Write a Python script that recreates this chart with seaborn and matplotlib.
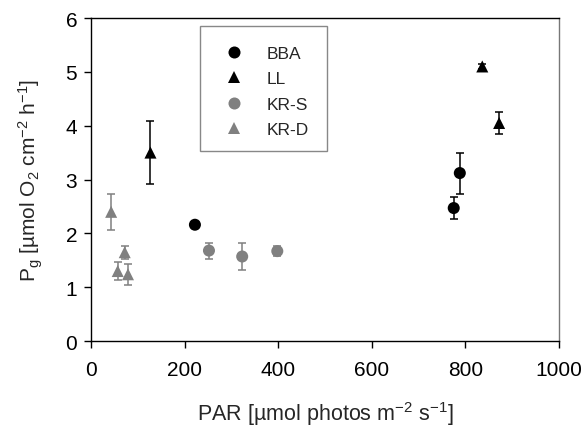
import pandas as pd
import matplotlib.pyplot as plt
import seaborn as sns
from matplotlib.patches import Rectangle

# values
bba_par = [222, 775, 788]
bba_pg = [2.16, 2.47, 3.12]
bba_err = [0.0, 0.20, 0.38]

ll_par = [127, 836, 872]
ll_pg = [3.50, 5.10, 4.05]
ll_err = [0.59, 0.04, 0.20]

krs_par = [252, 323, 398]
krs_pg = [1.68, 1.57, 1.67]
krs_err = [0.15, 0.25, 0.09]

krd_par = [43, 57, 72, 79]
krd_pg = [2.40, 1.30, 1.65, 1.24]
krd_err = [0.34, 0.17, 0.12, 0.20]

groups = ['BBA', 'LL', 'KR-S', 'KR-D']
colors = {'BBA': 'black', 'LL': 'black', 'KR-S': '#808080', 'KR-D': '#808080'}
markers = {'BBA': 'o', 'LL': '^', 'KR-S': 'o', 'KR-D': '^'}

frames = []
for g, x, y, e in [('BBA', bba_par, bba_pg, bba_err), ('LL', ll_par, ll_pg, ll_err),
                   ('KR-S', krs_par, krs_pg, krs_err), ('KR-D', krd_par, krd_pg, krd_err)]:
    frames.append(pd.DataFrame({'PAR': x, 'Pg': y, 'err': e, 'group': g}))
df = pd.concat(frames, ignore_index=True)

sns.set_style('ticks')
plt.rcParams['font.family'] = ['Liberation Sans', 'DejaVu Sans']
plt.rcParams['mathtext.fontset'] = 'custom'
plt.rcParams['mathtext.rm'] = 'Liberation Sans'
plt.rcParams['mathtext.default'] = 'regular'

fig = plt.figure(figsize=(5.85, 4.27), dpi=100)
ax = fig.add_axes([0.1556, 0.199, 0.80, 0.7565])

# error bars first, then markers on top
for g in groups:
    d = df[df['group'] == g]
    d = d[d['err'] > 0]
    ax.errorbar(d['PAR'], d['Pg'], yerr=d['err'], fmt='none', ecolor=colors[g],
                elinewidth=1.1, capsize=3, capthick=1.1, zorder=2)

sns.scatterplot(data=df, x='PAR', y='Pg', hue='group', style='group',
                hue_order=groups, style_order=groups, palette=colors, markers=markers,
                s=75, edgecolor='none', linewidth=0, ax=ax, zorder=3)

ax.set_xlim(0, 1000)
ax.set_ylim(0, 6)
ax.set_xticks([0, 200, 400, 600, 800, 1000])
ax.set_yticks([0, 1, 2, 3, 4, 5, 6])
ax.tick_params(labelsize=15, length=5, width=1, direction='out', colors='black')
ax.tick_params(axis='x', pad=9)
ax.tick_params(axis='y', pad=5)
for sp in ax.spines.values():
    sp.set_linewidth(1)
    sp.set_color('black')
ax.spines['right'].set_color('#777777')

ax.set_xlabel('PAR [µmol photos m$^{-2}$ s$^{-1}$]', fontsize=15.5, labelpad=14)
ax.set_ylabel('P$_{g}$ [µmol O$_{2}$ cm$^{-2}$ h$^{-1}$]', fontsize=15, labelpad=15)

# legend box drawn separately so its padding can match the original
ax.add_patch(Rectangle((0.233, 0.589), 0.271, 0.387, transform=ax.transAxes,
                       fill=False, edgecolor='#888888', linewidth=1, zorder=4))
leg = ax.legend(loc='upper left', bbox_to_anchor=(0.287, 0.915), fontsize=12.5,
                frameon=False, borderpad=0, labelspacing=0.6, handlelength=1.0,
                handletextpad=1.38, borderaxespad=0, markerscale=1.0)

plt.savefig('out.png', dpi=100)
